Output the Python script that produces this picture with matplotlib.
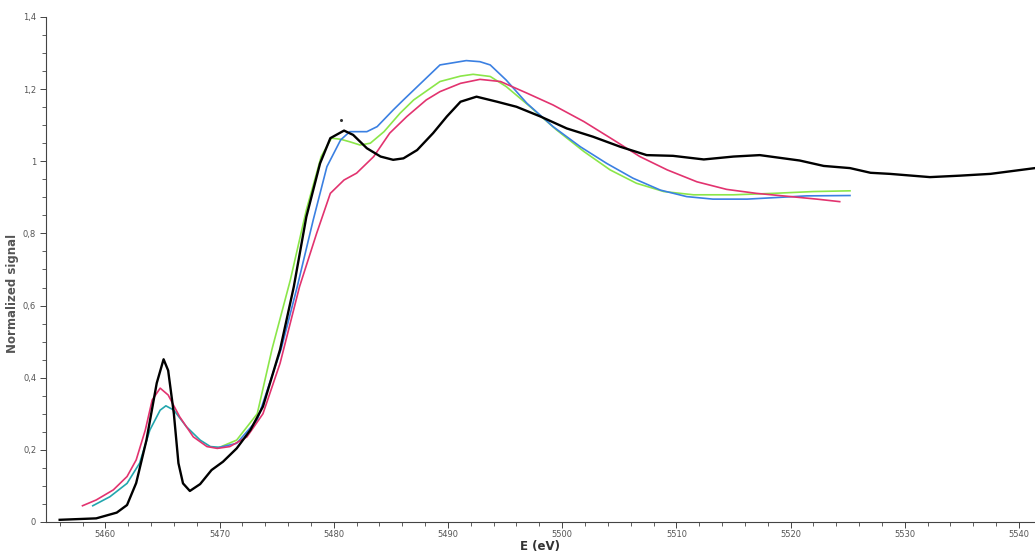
import matplotlib.pyplot as plt
from matplotlib.ticker import MultipleLocator, FuncFormatter

# black curve (measured spectrum)
e_black = [5456.0, 5459.2, 5461.0, 5461.9, 5462.7, 5463.6, 5464.5, 5465.1, 5465.5, 5466.0,
           5466.4, 5466.8, 5467.4, 5468.3, 5469.3, 5470.3, 5471.5, 5472.7, 5473.8, 5475.3,
           5476.5, 5477.6, 5478.8, 5479.7, 5480.9, 5481.7, 5482.9, 5484.1, 5485.2, 5486.1,
           5487.3, 5488.7, 5489.9, 5491.1, 5492.5, 5494.3, 5496.0, 5498.1, 5500.4, 5502.7,
           5505.1, 5507.4, 5509.7, 5512.4, 5515.0, 5517.3, 5520.8, 5522.9, 5525.2, 5527.0,
           5528.7, 5532.2, 5534.8, 5537.5, 5541.4]
s_black = [0.006, 0.010, 0.026, 0.047, 0.108, 0.227, 0.385, 0.451, 0.420, 0.300,
           0.163, 0.107, 0.086, 0.105, 0.144, 0.167, 0.204, 0.255, 0.320, 0.478,
           0.652, 0.846, 0.994, 1.064, 1.085, 1.073, 1.036, 1.013, 1.004, 1.008,
           1.031, 1.078, 1.124, 1.165, 1.179, 1.165, 1.151, 1.124, 1.091, 1.068,
           1.040, 1.017, 1.015, 1.005, 1.013, 1.017, 1.002, 0.987, 0.981, 0.968,
           0.965, 0.956, 0.960, 0.965, 0.981]

# pink curve
e_pink = [5458.0, 5459.2, 5460.7, 5461.9, 5462.7, 5463.5, 5464.1, 5464.8, 5465.5, 5466.5,
          5467.7, 5468.9, 5469.8, 5470.9, 5472.4, 5473.8, 5475.3, 5477.0, 5478.5, 5479.7,
          5480.9, 5482.0, 5483.5, 5484.9, 5486.4, 5488.1, 5489.3, 5491.1, 5492.8, 5494.6,
          5496.9, 5499.2, 5501.9, 5504.5, 5506.8, 5509.2, 5511.8, 5514.4, 5517.0, 5520.0,
          5522.3, 5524.3]
s_pink = [0.045, 0.061, 0.089, 0.126, 0.172, 0.255, 0.338, 0.371, 0.352, 0.292,
          0.236, 0.209, 0.204, 0.209, 0.236, 0.300, 0.440, 0.652, 0.800, 0.911,
          0.948, 0.967, 1.013, 1.078, 1.124, 1.170, 1.193, 1.216, 1.227, 1.221,
          1.189, 1.156, 1.110, 1.059, 1.013, 0.976, 0.943, 0.922, 0.911, 0.902,
          0.895, 0.888]

# shared pre-edge of the green and blue curves (drawn teal)
e_teal = [5458.9, 5460.4, 5461.9, 5463.0, 5463.9, 5464.8, 5465.3, 5466.0, 5467.1, 5468.3,
          5469.2, 5470.0]
s_teal = [0.045, 0.070, 0.107, 0.163, 0.255, 0.310, 0.322, 0.310, 0.264, 0.227,
          0.209, 0.207]

# green curve
e_green = [5470.0, 5471.5, 5473.3, 5474.6, 5476.2, 5477.6, 5478.9, 5479.8, 5480.6, 5481.4,
           5482.3, 5483.2, 5484.4, 5485.8, 5487.0, 5489.3, 5491.1, 5492.2, 5493.7, 5495.1,
           5497.2, 5499.5, 5501.9, 5504.2, 5506.5, 5508.9, 5511.5, 5515.0, 5518.5, 5522.0,
           5525.2]
s_green = [0.207, 0.227, 0.300, 0.480, 0.671, 0.865, 1.013, 1.064, 1.061, 1.054,
           1.045, 1.050, 1.082, 1.133, 1.170, 1.221, 1.236, 1.241, 1.235, 1.207,
           1.151, 1.087, 1.027, 0.976, 0.939, 0.916, 0.907, 0.907, 0.911, 0.916,
           0.918]

# blue curve
e_blue = [5470.0, 5471.5, 5473.3, 5475.4, 5476.8, 5478.2, 5479.4, 5480.6, 5481.4, 5482.9,
          5483.8, 5485.2, 5486.1, 5489.3, 5491.6, 5492.8, 5493.7, 5495.1, 5496.9, 5499.2,
          5501.6, 5503.9, 5506.2, 5508.6, 5510.9, 5513.2, 5516.2, 5519.1, 5521.4, 5525.2]
s_blue = [0.207, 0.218, 0.283, 0.480, 0.652, 0.837, 0.985, 1.059, 1.082, 1.082,
          1.096, 1.142, 1.170, 1.267, 1.279, 1.276, 1.267, 1.225, 1.161, 1.096,
          1.040, 0.994, 0.953, 0.920, 0.902, 0.895, 0.895, 0.900, 0.904, 0.905]

# stray dot near the first maximum
e_dot = [5480.6]
s_dot = [1.115]

fig = plt.figure(figsize=(10.35, 5.54), dpi=100)
ax = fig.add_axes([0.0444, 0.0578, 0.9556, 0.9116])

ax.plot(e_teal, s_teal, color='#22a6ae', lw=1.2)
ax.plot(e_green, s_green, color='#8be649', lw=1.2)
ax.plot(e_blue, s_blue, color='#3b80e2', lw=1.2)
ax.plot(e_pink, s_pink, color='#e2336f', lw=1.2)
ax.plot(e_black, s_black, color='black', lw=1.7)
ax.plot(e_dot, s_dot, 'o', color='#333333', ms=1.2)

ax.set_xlim(5454.8, 5541.4)
ax.set_ylim(0, 1.4)

ax.spines['top'].set_visible(False)
ax.spines['right'].set_visible(False)
for s in ['left', 'bottom']:
    ax.spines[s].set_color('#444444')
    ax.spines[s].set_linewidth(0.8)

ax.xaxis.set_major_locator(MultipleLocator(10))
ax.xaxis.set_minor_locator(MultipleLocator(2))
ax.yaxis.set_major_locator(MultipleLocator(0.2))
ax.yaxis.set_minor_locator(MultipleLocator(0.05))
fmt = FuncFormatter(lambda v, p: f'{round(v, 2):g}'.replace('.', ','))
ax.yaxis.set_major_formatter(fmt)
ax.xaxis.set_major_formatter(FuncFormatter(lambda v, p: f'{v:.0f}'))
ax.tick_params(which='major', length=4, width=0.7, color='#444444',
               labelsize=6, labelcolor='#555555')
ax.tick_params(axis='y', which='major', pad=3)
ax.tick_params(axis='x', which='major', pad=2)
ax.tick_params(which='minor', length=3, width=0.6, color='#444444')

fig.text(0.522, 0.001, 'E (eV)', fontsize=8.5, fontweight='bold',
         color='#333333', ha='center', va='bottom')
fig.text(0.012, 0.47, 'Normalized signal', fontsize=8.5, fontweight='bold',
         color='#555555', rotation=90, ha='center', va='center')

fig.savefig('out.png', dpi=100)
